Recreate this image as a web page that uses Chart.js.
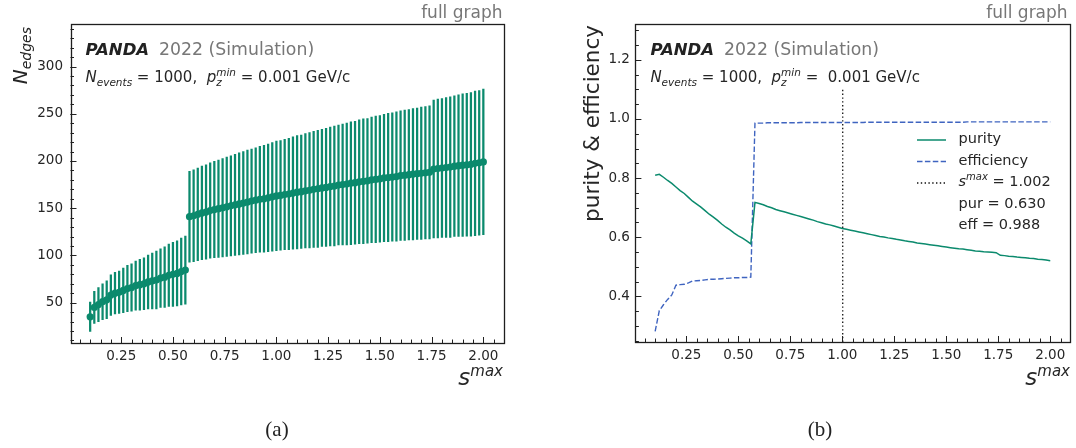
<!DOCTYPE html>
<html><head><meta charset="utf-8">
<script src="https://cdn.jsdelivr.net/npm/chart.js@4.4.1/dist/chart.umd.min.js"></script>
<style>
html,body{margin:0;padding:0;background:#fff;}
#wrap{position:relative;width:1076px;height:448px;overflow:hidden;background:#fff;}
canvas{position:absolute;top:0;}
#cA{left:0}
#cB{left:540px}
</style></head><body>
<div id="wrap"><canvas id="cA" width="540" height="448"></canvas><canvas id="cB" width="536" height="448"></canvas></div>
<script>
// ---------- data ----------
const sMax = [
 0.10,0.12,0.14,0.16,0.18,0.20,0.22,0.24,0.26,0.28,
 0.30,0.32,0.34,0.36,0.38,0.40,0.42,0.44,0.46,0.48,
 0.50,0.52,0.54,0.56,0.58,0.60,0.62,0.64,0.66,0.68,
 0.70,0.72,0.74,0.76,0.78,0.80,0.82,0.84,0.86,0.88,
 0.90,0.92,0.94,0.96,0.98,1.00,1.02,1.04,1.06,1.08,
 1.10,1.12,1.14,1.16,1.18,1.20,1.22,1.24,1.26,1.28,
 1.30,1.32,1.34,1.36,1.38,1.40,1.42,1.44,1.46,1.48,
 1.50,1.52,1.54,1.56,1.58,1.60,1.62,1.64,1.66,1.68,
 1.70,1.72,1.74,1.76,1.78,1.80,1.82,1.84,1.86,1.88,
 1.90,1.92,1.94,1.96,1.98,2.00];

const nEdges = [
 35,45,48,51,53,58,60,61,63,65,
 66,68,69,70,72,73,74,76,77,79,
 80,81,83,84.5,
 141,142,143.5,145,146,147.5,148.5,149.5,150.5,151.5,
 152.5,153.5,154.5,155.5,156.5,157.5,158.5,159.5,160,161,
 162,163,163.5,164.5,165,166,167,167.5,168.5,169,
 170,170.5,171.5,172,173,173.5,174.5,175,175.5,176.5,
 177,178,178.5,179,180,180.5,181,182,182.5,183,
 183.5,184.5,185,185.5,186,186.5,187,187.5,188,191.5,
 192,192.5,193,193.5,194.5,195,195.5,196,196.5,197.5,
 198,199];

const nEdgesErr = [
 15.5,17,18,19,20,21.5,22,22.5,23.5,24.5,
 25,26,27,27.5,28.5,29.5,30.5,31,32,33,
 34,34.5,35.5,36,
 48,48.5,49,49.5,50,50.5,51,51.5,52,52.5,
 53,53.5,54,54.5,55,55,55.5,56,56.5,57,
 57.5,58,58,58.5,59,59.5,60,60,60.5,61,
 61.5,62,62,62.5,63,63.5,63.5,64,64.5,65,
 65,65.5,66,66,66.5,67,67,67.5,68,68,
 68.5,68.5,69,69,69.5,69.5,70,70,70.5,73,
 73.5,73.5,74,74.5,74.5,75,75.5,75.5,76,76.5,
 76.5,77];

const purity = [
 0.810,0.813,0.803,0.792,0.782,0.770,0.758,0.748,0.735,0.722,
 0.712,0.702,0.690,0.678,0.668,0.657,0.645,0.634,0.625,0.614,
 0.605,0.597,0.588,0.578,0.718,0.714,0.710,0.704,0.700,0.694,
 0.690,0.686,0.682,0.678,0.674,0.670,0.666,0.662,0.658,0.653,
 0.649,0.645,0.642,0.638,0.634,0.630,0.627,0.624,0.621,0.618,
 0.615,0.612,0.609,0.606,0.603,0.601,0.598,0.596,0.593,0.591,
 0.588,0.586,0.584,0.581,0.579,0.577,0.575,0.573,0.571,0.569,
 0.567,0.565,0.563,0.561,0.560,0.558,0.556,0.554,0.553,0.551,
 0.550,0.549,0.548,0.539,0.538,0.536,0.535,0.533,0.532,0.531,
 0.529,0.528,0.526,0.525,0.523,0.521];

const efficiency = [
 0.282,0.352,0.372,0.390,0.405,0.438,0.440,0.441,0.446,0.452,
 0.453,0.454,0.456,0.458,0.458,0.459,0.460,0.461,0.462,0.463,
 0.463,0.464,0.464,0.465,0.986,0.986,0.986,0.987,0.987,0.987,
 0.987,0.987,0.987,0.987,0.987,0.988,0.988,0.988,0.988,0.988,
 0.988,0.988,0.988,0.988,0.988,0.988,0.988,0.988,0.988,0.988,
 0.988,0.989,0.989,0.989,0.989,0.989,0.989,0.989,0.989,0.989,
 0.989,0.989,0.989,0.989,0.989,0.989,0.989,0.989,0.989,0.989,
 0.989,0.989,0.989,0.989,0.989,0.990,0.990,0.990,0.990,0.990,
 0.990,0.990,0.990,0.990,0.990,0.990,0.990,0.990,0.990,0.990,
 0.990,0.990,0.990,0.990,0.990,0.990];

const cutS = 1.002;
const cutPur = 0.630;
const cutEff = 0.988;

const xTicks  = [0.25,0.50,0.75,1.00,1.25,1.50,1.75,2.00];
const yTicksA = [50,100,150,200,250,300];
const yTicksB = [0.4,0.6,0.8,1.0,1.2];

// ---------- style ----------
const GREEN = '#0b8a6d';
const BLUE  = '#3f64c0';
const FONT  = 'DejaVu Sans';
const TXT   = '#262626';

function rich(ctx, parts, x, y, align) {
  let total = 0;
  const ws = parts.map(p => { ctx.font = p.f; const w = ctx.measureText(p.t).width; if (!p.keep) total += w; return w; });
  let cx = align === 'right' ? x - total : (align === 'center' ? x - total/2 : x);
  parts.forEach((p, i) => {
    ctx.font = p.f; ctx.fillStyle = p.c || TXT;
    ctx.fillText(p.t, cx, y + (p.dy || 0));
    if (!p.keep) cx += ws[i];
  });
}

function frameTicks(minorX, minorY) {
  return {
    id: 'frameTicks',
    afterDraw(chart) {
      const {ctx, chartArea: a, scales: {x, y}} = chart;
      ctx.save();
      ctx.strokeStyle = '#222';
      ctx.lineWidth = 1;
      ctx.beginPath();
      const tx = (v, len) => { const p = Math.round(x.getPixelForValue(v)) + 0.5; ctx.moveTo(p, a.bottom); ctx.lineTo(p, a.bottom - len); };
      const ty = (v, len) => { const p = Math.round(y.getPixelForValue(v)) + 0.5; ctx.moveTo(a.left, p); ctx.lineTo(a.left + len, p); };
      for (let k = Math.ceil(x.min / minorX); k * minorX <= x.max; k++) tx(k * minorX, 3.5);
      for (let k = Math.ceil(y.min / minorY); k * minorY <= y.max; k++) ty(k * minorY, 3.5);
      x.ticks.forEach(t => tx(t.value, 6));
      y.ticks.forEach(t => ty(t.value, 6));
      ctx.stroke();
      ctx.lineWidth = 1.3;
      ctx.strokeStyle = '#1e1e1e';
      ctx.strokeRect(Math.round(a.left) + 0.5, Math.round(a.top) + 0.5, Math.round(a.right - a.left), Math.round(a.bottom - a.top));
      ctx.restore();
    }
  };
}

function headerText(eqSpace, fgOffset) {
  return {
    id: 'headerText',
    afterDraw(chart) {
      const {ctx, chartArea: a} = chart;
      ctx.save();
      ctx.textBaseline = 'alphabetic';
      rich(ctx, [{t: 'full graph', f: '17px ' + FONT, c: '#777'}], a.right - fgOffset, 18, 'right');
      const x0 = a.left + 15;
      ctx.font = 'italic bold 16.5px ' + FONT;
      const wP = ctx.measureText('PANDA').width;
      rich(ctx, [{t: 'PANDA', f: 'italic bold 16.5px ' + FONT, c: '#222'}], x0, 55, 'left');
      rich(ctx, [{t: '2022 (Simulation)', f: '17.3px ' + FONT, c: '#777'}], x0 + wP + 10, 55, 'left');
      rich(ctx, [
        {t: 'N', f: 'italic 15px ' + FONT},
        {t: 'events', f: 'italic 10.5px ' + FONT, dy: 3.5},
        {t: ' = 1000,  ', f: '15px ' + FONT},
        {t: 'p', f: 'italic 15px ' + FONT},
        {t: 'z', f: 'italic 10.5px ' + FONT, dy: 4, keep: true},
        {t: 'min', f: 'italic 10.5px ' + FONT, dy: -6},
        {t: (eqSpace ? ' =  ' : ' = ') + '0.001 GeV/c', f: '15px ' + FONT}
      ], x0, 82, 'left');
      rich(ctx, [
        {t: 's', f: 'italic 23px ' + FONT},
        {t: 'max', f: 'italic 15px ' + FONT, dy: -9}
      ], a.right, 385, 'right');
      ctx.restore();
    }
  };
}

function caption(label, cx) {
  return {
    id: 'caption',
    afterDraw(chart) {
      const ctx = chart.ctx;
      ctx.save();
      ctx.fillStyle = '#222';
      ctx.font = '21px "Liberation Serif"';
      ctx.textAlign = 'center';
      ctx.textBaseline = 'alphabetic';
      ctx.fillText(label, cx, 436);
      ctx.restore();
    }
  };
}

const tickFont = {family: FONT, size: 13.5};

// ---------- chart (a) ----------
const yMinA = 7.3, yMaxA = 345;
new Chart(document.getElementById('cA'), {
  type: 'scatter',
  data: {
    datasets: [
      {
        type: 'scatter', label: 'N_edges',
        data: sMax.map((x, i) => ({x: x, y: nEdges[i]})),
        backgroundColor: GREEN, borderColor: GREEN, pointRadius: 3.6, pointBorderWidth: 0, order: 0
      },
      {
        type: 'bar', label: 'err',
        data: sMax.map((x, i) => ({x: x, y: [nEdges[i] - nEdgesErr[i], nEdges[i] + nEdgesErr[i]]})),
        backgroundColor: GREEN, borderWidth: 0, barThickness: 1.6, order: 1
      }
    ]
  },
  options: {
    responsive: false, animation: false, devicePixelRatio: 1,
    layout: {padding: {left: 0, right: 37, top: 24, bottom: 85}},
    plugins: {legend: {display: false}, tooltip: {enabled: false}},
    scales: {
      x: {
        type: 'linear', min: 0.005, max: 2.095, offset: false,
        grid: {display: false, drawTicks: false}, border: {display: false},
        ticks: {font: tickFont, color: TXT, padding: 5, autoSkip: false, maxRotation: 0, callback: v => v.toFixed(2)},
        afterBuildTicks: s => { s.ticks = xTicks.map(v => ({value: v})); },
        afterFit: s => { s.height = 20; }
      },
      y: {
        type: 'linear', min: yMinA, max: yMaxA,
        grid: {display: false, drawTicks: false}, border: {display: false},
        ticks: {font: tickFont, color: TXT, padding: 7.5, callback: v => String(v)},
        afterBuildTicks: s => { s.ticks = yTicksA.map(v => ({value: v})); },
        afterFit: s => { s.width = 70.5; }
      }
    }
  },
  plugins: [
    frameTicks(0.05, 10), headerText(false, 0.5), caption('(a)', 277),
    {
      id: 'ytitleA',
      afterDraw(chart) {
        const ctx = chart.ctx;
        ctx.save();
        ctx.translate(26.5, 27);
        ctx.rotate(-Math.PI / 2);
        ctx.textBaseline = 'alphabetic';
        rich(ctx, [
          {t: 'N', f: 'italic 20px ' + FONT},
          {t: 'edges', f: 'italic 14px ' + FONT, dy: 4}
        ], 0, 0, 'right');
        ctx.restore();
      }
    }
  ]
});

// ---------- chart (b) ----------
const yMinB = 0.246, yMaxB = 1.321;
new Chart(document.getElementById('cB'), {
  type: 'scatter',
  data: {
    datasets: [
      {
        label: 'purity', showLine: true, pointRadius: 0,
        data: sMax.map((x, i) => ({x: x, y: purity[i]})),
        borderColor: GREEN, borderWidth: 1.5, fill: false
      },
      {
        label: 'efficiency', showLine: true, pointRadius: 0,
        data: sMax.map((x, i) => ({x: x, y: efficiency[i]})),
        borderColor: BLUE, borderWidth: 1.4, borderDash: [5.5, 2.4], fill: false
      },
      {
        label: 'smax', showLine: true, pointRadius: 0,
        data: [{x: cutS, y: yMinB}, {x: cutS, y: yMinB + 0.8 * (yMaxB - yMinB)}],
        borderColor: '#111', borderWidth: 1.3, borderDash: [1.4, 2.4], fill: false
      }
    ]
  },
  options: {
    responsive: false, animation: false, devicePixelRatio: 1,
    layout: {padding: {left: 0, right: 6, top: 24, bottom: 86}},
    plugins: {legend: {display: false}, tooltip: {enabled: false}},
    scales: {
      x: {
        type: 'linear', min: 0.005, max: 2.095, offset: false,
        grid: {display: false, drawTicks: false}, border: {display: false},
        ticks: {font: tickFont, color: TXT, padding: 5, autoSkip: false, maxRotation: 0, callback: v => v.toFixed(2)},
        afterBuildTicks: s => { s.ticks = xTicks.map(v => ({value: v})); },
        afterFit: s => { s.height = 20; }
      },
      y: {
        type: 'linear', min: yMinB, max: yMaxB,
        grid: {display: false, drawTicks: false}, border: {display: false},
        ticks: {font: tickFont, color: TXT, padding: 5.5, callback: v => v.toFixed(1)},
        afterBuildTicks: s => { s.ticks = yTicksB.map(v => ({value: v})); },
        afterFit: s => { s.width = 95.4; }
      }
    }
  },
  plugins: [
    frameTicks(0.05, 0.05), headerText(true, 2.4), caption('(b)', 280),
    {
      id: 'ytitleB',
      afterDraw(chart) {
        const ctx = chart.ctx;
        ctx.save();
        ctx.translate(59, 25);
        ctx.rotate(-Math.PI / 2);
        ctx.textBaseline = 'alphabetic';
        rich(ctx, [{t: 'purity & efficiency', f: '21.5px ' + FONT}], 0, 0, 'right');
        ctx.restore();
      }
    },
    {
      id: 'legendB',
      afterDraw(chart) {
        const ctx = chart.ctx;
        const hx0 = 377, hx1 = 406, tx = 418.5;
        const rows = [139.5, 161, 182.5, 204, 225.5];
        const lf = '14.5px ' + FONT;
        ctx.save();
        ctx.textBaseline = 'middle';
        const handle = (y, col, w, dash) => {
          ctx.beginPath(); ctx.strokeStyle = col; ctx.lineWidth = w; ctx.setLineDash(dash);
          ctx.moveTo(hx0, y + 0.5); ctx.lineTo(hx1, y + 0.5); ctx.stroke();
        };
        handle(rows[0], GREEN, 1.5, []);
        handle(rows[1], BLUE, 1.4, [5.5, 2.4]);
        handle(rows[2], '#111', 1.3, [1.4, 2.4]);
        ctx.setLineDash([]);
        rich(ctx, [{t: chart.data.datasets[0].label, f: lf}], tx, rows[0], 'left');
        rich(ctx, [{t: chart.data.datasets[1].label, f: lf}], tx, rows[1], 'left');
        rich(ctx, [
          {t: 's', f: 'italic 14.5px ' + FONT},
          {t: 'max', f: 'italic 10px ' + FONT, dy: -5.5},
          {t: ' = ' + cutS.toFixed(3), f: lf}
        ], tx, rows[2], 'left');
        rich(ctx, [{t: 'pur = ' + cutPur.toFixed(3), f: lf}], tx, rows[3], 'left');
        rich(ctx, [{t: 'eff = ' + cutEff.toFixed(3), f: lf}], tx, rows[4], 'left');
        ctx.restore();
      }
    }
  ]
});
</script>
</body></html>
